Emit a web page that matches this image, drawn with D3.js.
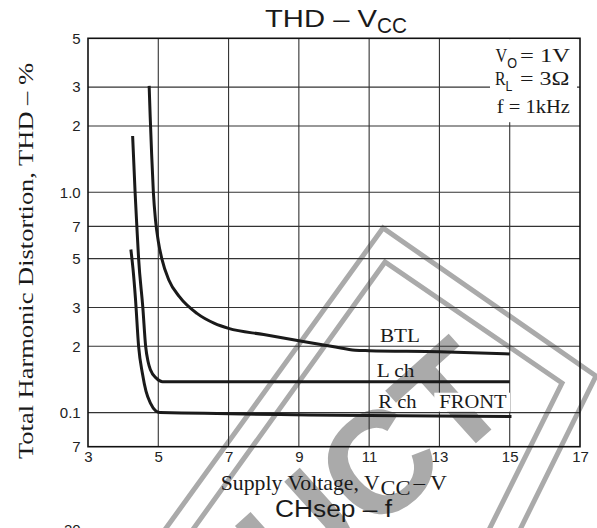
<!DOCTYPE html>
<html><head><meta charset="utf-8">
<script src="https://cdn.jsdelivr.net/npm/d3@7"></script>
<style>
html,body{margin:0;padding:0;background:#fff;}
svg{display:block;}
.serif{font-family:"Liberation Serif","Times New Roman",Times,serif;}
.sans{font-family:"Liberation Sans",Arial,Helvetica,sans-serif;}
</style></head>
<body>
<svg id="chart" width="597" height="528"></svg>
<script>
// ---- data ----
const xTicks = [3, 5, 7, 9, 11, 13, 15, 17];
const xTickLabels = ["3", "5", "7", "9", "11", "13", "15", "17"];
const yTicks = [0.07, 0.1, 0.2, 0.3, 0.5, 0.7, 1.0, 2, 3, 5];
const yTickLabels = ["7", "0.1", "2", "3", "5", "7", "1.0", "2", "3", "5"];
const btl = [[4.74,3.04],[4.77,2.2],[4.81,1.5],[4.86,1.0],[4.92,0.75],[5.0,0.6],[5.1,0.5],[5.3,0.4],[5.6,0.336],[6.1,0.282],[6.6,0.254],[7.0,0.241],[8.0,0.226],[9.0,0.212],[10.0,0.199],[10.6,0.192],[11.0,0.191],[13.0,0.189],[15.0,0.1845]];
const lch = [[4.27,1.8],[4.34,1.0],[4.39,0.7],[4.44,0.5],[4.56,0.3],[4.64,0.2],[4.71,0.17],[4.78,0.156],[4.95,0.143],[5.12,0.138],[15.0,0.138]];
const rch = [[4.22,0.55],[4.28,0.45],[4.35,0.33],[4.44,0.2],[4.55,0.15],[4.65,0.125],[4.78,0.11],[4.92,0.102],[5.05,0.1],[15.05,0.096]];
const seriesLabels = ["BTL", "L ch", "R ch", "FRONT"];
const titleMain = "THD – V", titleSub = "CC";
const xTitle = ["Supply Voltage, V", "CC", "– V"];
const yTitle = "Total Harmonic Distortion, THD – %";
const condLines = [["V","O","= 1V"],["R","L","= 3Ω"],["f = 1kHz"]];
const nextTitle = "CHsep – f";
const nextTick = "20";
const watermark = "UCT";

// ---- layout ----
const svg = d3.select("#chart");
const L = 88, R = 580, T = 38.3, B = 446.7;
const x = d3.scaleLinear().domain([3, 17]).range([L, R]);
const y = d3.scaleLog().domain([0.07, 5]).range([B, T]);
const lenAdj = sel => sel.attr("lengthAdjust", "spacingAndGlyphs");

// watermark (behind)
const wm = svg.append("g").attr("fill", "none").attr("stroke", "#aaaaaa").attr("stroke-width", 5);
wm.append("path").attr("d", "M143,560 L383,228 L596,376 L505,560");
wm.append("path").attr("d", "M171,560 L385,262 L562,383 L474,560");
const F = 145;
svg.append("text").attr("class", "sans")
  .attr("transform", "translate(373,536) rotate(-42)")
  .attr("x", -0.722 * F)
  .attr("font-size", F).attr("font-weight", "bold").attr("fill", "#aaaaaa")
  .text(watermark);

// grid
const grid = svg.append("g").attr("stroke", "#333").attr("stroke-width", 1.1);
grid.selectAll("line.v").data(xTicks.slice(1, -1)).join("line")
  .attr("x1", d => x(d)).attr("x2", d => x(d)).attr("y1", T).attr("y2", B);
grid.selectAll("line.h").data(yTicks.slice(1, -1)).join("line")
  .attr("x1", L).attr("x2", R).attr("y1", d => y(d)).attr("y2", d => y(d));

// frame
svg.append("rect").attr("x", L).attr("y", T).attr("width", R - L).attr("height", B - T)
  .attr("fill", "none").attr("stroke", "#111").attr("stroke-width", 1.6);

// axes labels
const ya = svg.append("g").attr("transform", `translate(${L},0)`)
  .call(d3.axisLeft(y).tickValues(yTicks).tickFormat((d, i) => yTickLabels[i]).tickSize(0).tickPadding(7.3));
const xa = svg.append("g").attr("transform", `translate(0,${B})`)
  .call(d3.axisBottom(x).tickValues(xTicks).tickFormat((d, i) => xTickLabels[i]).tickSize(0).tickPadding(4.4));
[ya, xa].forEach(g => {
  g.select(".domain").remove();
  g.selectAll("text").attr("font-family", "Liberation Sans, Arial, sans-serif").attr("font-size", 15).attr("fill", "#222");
});

// curves
const line = d3.line().x(d => x(d[0])).y(d => y(d[1])).curve(d3.curveMonotoneX);
[btl, lch, rch].forEach(s => {
  svg.append("path").attr("d", line(s)).attr("fill", "none").attr("stroke", "#1a1a1a").attr("stroke-width", 3);
});

// series labels
const sl = [[380, 342, 40], [376.7, 376.7, 37.7], [378.3, 408.3, 38.3], [439.3, 408.3, 67.3]];
svg.append("rect").attr("x", 434.3).attr("y", 392.7).attr("width", 75.7).attr("height", 19).attr("fill", "#fff");
seriesLabels.forEach((t, i) => {
  svg.append("text").attr("class", "serif").attr("x", sl[i][0]).attr("y", sl[i][1])
    .attr("font-size", 19).attr("fill", "#1a1a1a")
    .attr("textLength", sl[i][2]).call(lenAdj).text(t);
});

// conditions box
svg.append("rect").attr("x", 490).attr("y", 39.2).attr("width", 87).attr("height", 83).attr("fill", "#fff");
const c1 = svg.append("g").attr("fill", "#1a1a1a");
function symbol(xp, yp, main, sub, len, subDy) {
  const t = c1.append("text").attr("class", "serif").attr("x", xp).attr("y", yp).attr("font-size", 18)
    .attr("textLength", len).call(lenAdj);
  t.append("tspan").text(main);
  t.append("tspan").attr("class", "sans").attr("font-size", 14).attr("dy", subDy).text(sub);
}
symbol(495.5, 61.7, condLines[0][0], condLines[0][1], 21.5, 5.8);
c1.append("text").attr("class", "serif").attr("x", 520).attr("y", 61.7).attr("font-size", 18)
  .attr("textLength", 50).call(lenAdj).text(condLines[0][2]);
symbol(495, 85, condLines[1][0], condLines[1][1], 17.5, 6);
c1.append("text").attr("class", "serif").attr("x", 520).attr("y", 85).attr("font-size", 18)
  .attr("textLength", 49.5).call(lenAdj).text(condLines[1][2]);
c1.append("text").attr("class", "serif").attr("x", 496.7).attr("y", 112.7).attr("font-size", 18)
  .attr("textLength", 73.3).call(lenAdj).text(condLines[2][0]);

// title
svg.append("text").attr("class", "sans").attr("x", 265).attr("y", 27.3).attr("font-size", 24).attr("fill", "#1a1a1a")
  .attr("textLength", 112).call(lenAdj).text(titleMain);
svg.append("text").attr("class", "sans").attr("x", 377).attr("y", 33.3).attr("font-size", 22).attr("fill", "#1a1a1a")
  .attr("textLength", 30).call(lenAdj).text(titleSub);

// x title
svg.append("text").attr("class", "serif").attr("x", 220.7).attr("y", 490).attr("font-size", 21).attr("fill", "#1a1a1a")
  .attr("textLength", 159).call(lenAdj).text(xTitle[0]);
svg.append("text").attr("class", "serif").attr("x", 380.5).attr("y", 495).attr("font-size", 20).attr("fill", "#1a1a1a")
  .attr("textLength", 30).call(lenAdj).text(xTitle[1]);
svg.append("text").attr("class", "serif").attr("x", 413.5).attr("y", 490).attr("font-size", 21).attr("fill", "#1a1a1a")
  .attr("textLength", 33.5).call(lenAdj).text(xTitle[2]);

// y title
svg.append("text").attr("class", "serif").attr("transform", "translate(32.5,261) rotate(-90)")
  .attr("text-anchor", "middle").attr("font-size", 21.5).attr("fill", "#1a1a1a")
  .attr("textLength", 396).call(lenAdj).text(yTitle);

// next chart fragments
svg.append("text").attr("class", "sans").attr("x", 275).attr("y", 516.7).attr("font-size", 23).attr("fill", "#1a1a1a")
  .attr("textLength", 117).call(lenAdj).text(nextTitle);
svg.append("text").attr("class", "sans").attr("x", 80.7).attr("y", 535).attr("text-anchor", "end").attr("font-size", 15).attr("fill", "#1a1a1a")
  .text(nextTick);
</script>
</body></html>
